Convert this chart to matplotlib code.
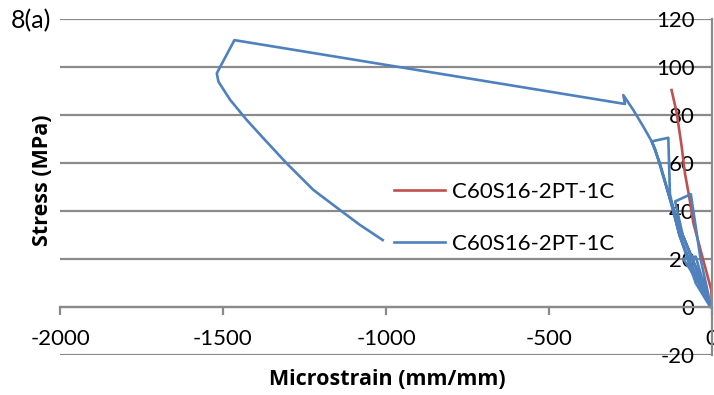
import matplotlib
matplotlib.use("Agg")
import matplotlib.pyplot as plt

# 红线 (单调加载)
red_strain = [0, -2, -27, -57, -70, -83, -93, -108, -124]
red_stress = [0, 7, 19.6, 34.9, 46, 55.7, 66.8, 80.7, 90.4]

# 蓝线 (循环加载 + 峰后)
blue_strain = [0, -40, -88, -50, -5,
               -45, -90, -113, -65, -35, -3,
               -60, -105, -140, -175, -185, -134, -129, -100, -50, -5,
               -55, -100, -139, -160, -185, -210, -241, -272, -267,
               -1465, -1519, -1514, -1478, -1427, -1376, -1305, -1223, -1141, -1080, -1010]
blue_stress = [0, 10, 20, 21, 0,
               15, 30, 44, 47, 20, 0,
               20, 35, 50, 66, 69, 70.5, 47, 30, 10, 0,
               15, 30, 50, 60, 69, 75, 82, 88.3, 84.6,
               111.2, 97.4, 93.9, 86.3, 77.9, 70.3, 59.9, 48.8, 40.4, 34.2, 27.9]

labels = ["C60S16-2PT-1C", "C60S16-2PT-1C"]
x_ticks = [-2000, -1500, -1000, -500, 0]
y_ticks = [-20, 0, 20, 40, 60, 80, 100, 120]

plt.rcParams['font.family'] = ['Lato', 'DejaVu Sans']
plt.rcParams['axes.unicode_minus'] = False
FS = 16
GRID = '#8a8a8a'

fig = plt.figure(figsize=(7.14, 3.95), dpi=100)
ax = fig.add_axes([60 / 714, 1 - 355 / 395, 652 / 714, 336 / 395])

ax.plot(red_strain, red_stress, color='#C0504D', lw=1.9, label=labels[0])
ax.plot(blue_strain, blue_stress, color='#4F81BD', lw=1.9, label=labels[1])

ax.set_xlim(-2000, 0)
ax.set_ylim(-20, 120)
ax.set_xticks(x_ticks)
ax.set_yticks(y_ticks)

for y in y_ticks:
    ax.axhline(y, color=GRID, lw=1.6, zorder=0)

for s in ['top', 'left']:
    ax.spines[s].set_visible(False)
ax.spines['bottom'].set_position(('data', 0))
ax.spines['bottom'].set_color(GRID)
ax.spines['bottom'].set_linewidth(1.6)
ax.spines['right'].set_color(GRID)
ax.spines['right'].set_linewidth(1.6)

ax.tick_params(axis='x', direction='out', length=6, width=1.6, color=GRID,
               labelsize=FS, pad=10)
ax.tick_params(axis='y', left=False, right=False, labelleft=False,
               labelright=True, labelsize=FS, pad=-16)
for lbl in ax.get_yticklabels():
    lbl.set_ha('right')

ax.legend(loc='center left', bbox_to_anchor=(0.495, 0.408), frameon=False,
          fontsize=FS, handlelength=2.3, handletextpad=0.3, labelspacing=1.45,
          borderpad=0)

fig.text(0.059, 0.544, 'Stress (MPa)', rotation=90, ha='center', va='center',
         fontsize=15.5, fontweight='bold', family=['Open Sans', 'DejaVu Sans'])
fig.text(0.543, 0.038, 'Microstrain (mm/mm)', ha='center', va='center',
         fontsize=15.5, fontweight='bold', family=['Open Sans', 'DejaVu Sans'])
fig.text(0.015, 0.948, '8(a)', ha='left', va='center', fontsize=18)

fig.savefig('out.png', dpi=100)
